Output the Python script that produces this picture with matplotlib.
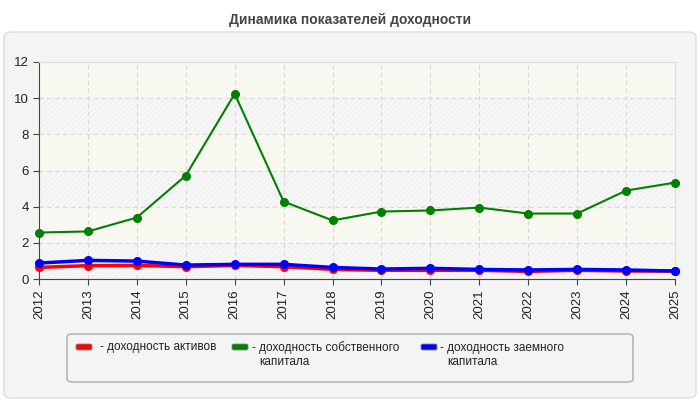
import matplotlib
matplotlib.use("Agg")
import matplotlib.pyplot as plt
from matplotlib.patches import FancyBboxPatch, Rectangle

years = ["2012", "2013", "2014", "2015", "2016", "2017", "2018", "2019",
         "2020", "2021", "2022", "2023", "2024", "2025"]
roa = [0.64, 0.74, 0.75, 0.68, 0.75, 0.68, 0.53, 0.48, 0.48, 0.48, 0.42, 0.48, 0.44, 0.44]
roe = [2.57, 2.63, 3.40, 5.72, 10.24, 4.28, 3.24, 3.73, 3.79, 3.95, 3.62, 3.62, 4.89, 5.33]
rod = [0.88, 1.03, 0.99, 0.77, 0.81, 0.81, 0.64, 0.55, 0.59, 0.53, 0.50, 0.53, 0.50, 0.44]
series_names = ["- доходность активов",
                "- доходность собственного\nкапитала",
                "- доходность заемного\nкапитала"]
colors = ["#ff0000", "#008000", "#0000ff"]
title = "Динамика показателей доходности"

plt.rcParams['font.family'] = ['Liberation Sans', 'DejaVu Sans']
plt.rcParams['hatch.linewidth'] = 0.8
W, H = 700, 400
fig = plt.figure(figsize=(7, 4), dpi=100)
fig.patch.set_facecolor("white")

def fx(px): return px / W
def fy(py): return 1 - py / H

panel = FancyBboxPatch((fx(4), fy(398)), fx(692), 366 / H,
                       boxstyle="round,pad=0,rounding_size=0.012",
                       transform=fig.transFigure, facecolor="#f4f4f4",
                       edgecolor="#dddddd", linewidth=1, zorder=-5)
fig.patches.append(panel)

fig.text(0.5, fy(20), title, ha="center", va="center", fontsize=10,
         fontweight="bold", color="#444444")

ax = fig.add_axes([fx(39), fy(279), fx(675 - 39), (279 - 62) / H])
ax.set_zorder(2)
ax.set_facecolor("#f3f3f3")
for k in range(6):
    lo = 2 * k
    if k % 2 == 0:
        ax.axhspan(lo, lo + 2, facecolor="#f2f2f2", edgecolor="#fbfbfb",
                   hatch="//////", linewidth=0, zorder=0)
    else:
        ax.axhspan(lo, lo + 2, facecolor="#fafaf2", edgecolor="#f6f6ee",
                   hatch="//////", linewidth=0, zorder=0)
x = list(range(len(years)))
ax.plot(x, roa, color=colors[0], linewidth=2.5, marker="o", markersize=5.5, zorder=3,
        clip_on=False)
ax.plot(x, roe, color=colors[1], linewidth=1.5, marker="o", markersize=5.5, zorder=4,
        clip_on=False)
ax.plot(x, rod, color=colors[2], linewidth=2.5, marker="o", markersize=5.5, zorder=3,
        clip_on=False)

ax.set_xlim(0, len(years) - 1)
ax.set_ylim(0, 12)
ax.set_yticks(range(0, 13, 2))
ax.set_xticks(x)
ax.set_xticklabels(years, rotation=90, fontsize=9.5, color="#222222")
ax.tick_params(axis="y", labelsize=9.5, labelcolor="#222222")
ax.tick_params(length=4, color="#444444")
ax.grid(True, linestyle=(0, (4, 3)), color="#d8d8d8", linewidth=0.8)
ax.set_axisbelow(True)
for s in ["top", "right"]:
    ax.spines[s].set_color("#dddddd")
for s in ["left", "bottom"]:
    ax.spines[s].set_color("#444444")

leg = FancyBboxPatch((fx(67), fy(382)), fx(633 - 67), (382 - 334) / H,
                     boxstyle="round,pad=0,rounding_size=0.008",
                     transform=fig.transFigure, facecolor="#f4f4f4",
                     edgecolor="#aaaaaa", linewidth=1, zorder=1)
fig.patches.append(leg)
hx = [76, 232, 421]
tx = [100, 252, 440]
ty = [347, 348, 348]
for i in range(3):
    fig.patches.append(FancyBboxPatch((fx(hx[i]), fy(350)), fx(16), 6 / H,
                                      boxstyle="round,pad=0,rounding_size=0.003",
                                      transform=fig.transFigure,
                                      facecolor=colors[i], edgecolor="#888888",
                                      linewidth=0.6, zorder=2))
    lines = series_names[i].split("\n")
    fig.text(fx(tx[i]), fy(ty[i]), lines[0], ha="left", va="center",
             fontsize=8.5, color="#222222")
    if len(lines) > 1:
        fig.text(fx(tx[i] + 7), fy(ty[i] + 14), lines[1], ha="left", va="center",
                 fontsize=8.5, color="#222222")

fig.savefig("out.png", dpi=100)
